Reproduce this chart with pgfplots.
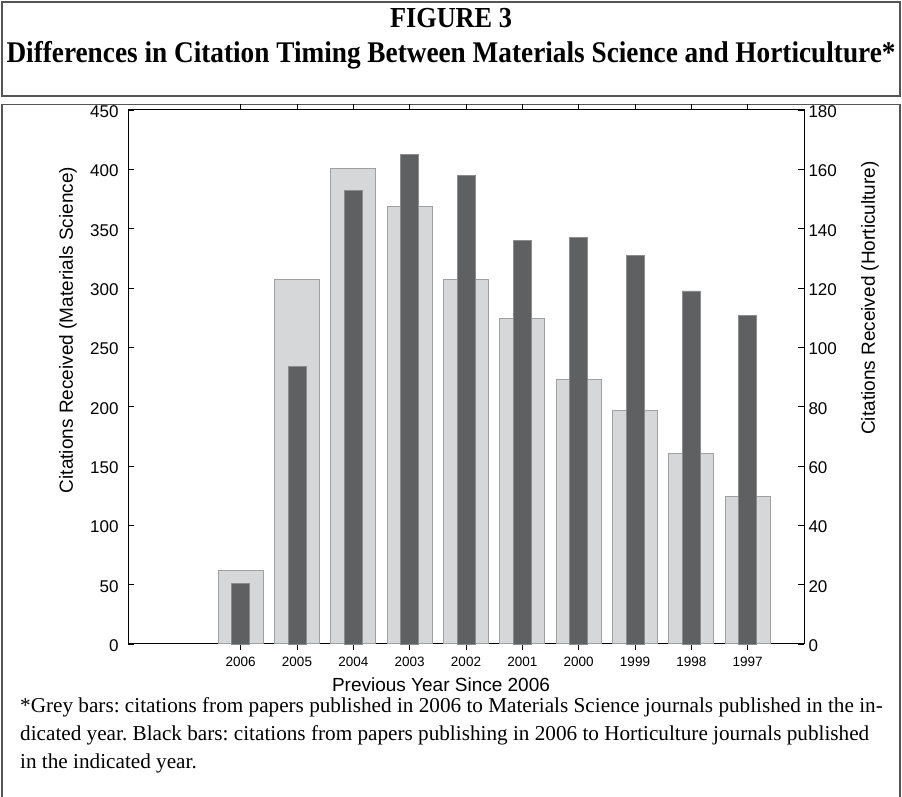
\documentclass[border=0pt]{standalone}
\usepackage{pgfplots}
\pgfplotsset{compat=1.18}
\usepackage{fontspec}
\setmainfont{Liberation Serif}
\setsansfont{Liberation Sans}
\usepackage{graphicx}
\definecolor{lgray}{HTML}{D6D7D9}
\definecolor{lgrayb}{HTML}{9FA0A2}
\definecolor{dgray}{HTML}{5F6062}
\definecolor{dgrayb}{HTML}{8C8C8E}
\definecolor{framec}{HTML}{555555}
\frenchspacing
\begin{document}
\begin{tikzpicture}[x=1pt,y=1pt]
\useasboundingbox (0,0) rectangle (902,797);
\draw[framec, line width=1.6pt] (2,701) rectangle (900,795);
\draw[framec, line width=1.6pt] (2,-5) -- (2,692.5) -- (900,692.5) -- (900,-5);
\node[anchor=base, inner sep=0, font=\bfseries\fontsize{29}{31}\selectfont] at (451,769) {\resizebox{122pt}{\height}{FIGURE 3}};
\node[anchor=base, inner sep=0, font=\bfseries\fontsize{30}{32}\selectfont] at (451,734) {\resizebox{889pt}{\height}{Differences in Citation Timing Between Materials Science and Horticulture*}};

\begin{axis}[at={(128pt,153pt)}, anchor=south west, scale only axis,
  width=676pt, height=534pt,
  xmin=-2, xmax=10, ymin=0, ymax=450,
  ytick={0,50,...,450},
  xtick={0,...,9},
  xticklabels={2006,2005,2004,2003,2002,2001,2000,1999,1998,1997},
  tick align=inside, xtick pos=both, xticklabel pos=bottom,
  ytick pos=left, yticklabel pos=left,
  major tick length=6pt,
  axis line style={line width=1pt},
  every tick/.style={black, line width=0.8pt},
  /pgf/number format/assume math mode=true,
  yticklabel style={font=\sffamily\fontsize{17}{17}\selectfont, xshift=-6pt, yshift=-1.5pt},
  xticklabel style={font=\sffamily\fontsize{13.5}{14}\selectfont, yshift=-4pt},
  ybar, bar width=45pt, bar shift=0pt, clip=false]
\addplot[fill=lgray, draw=lgrayb, line width=1pt] coordinates {
 (0,62) (1,307) (2,401) (3,369) (4,307) (5,274) (6,222.5) (7,197) (8,160.5) (9,124)};
\end{axis}

\begin{axis}[at={(128pt,153pt)}, anchor=south west, scale only axis,
  width=676pt, height=534pt,
  xmin=-2, xmax=10, ymin=0, ymax=180,
  ytick={0,20,...,180},
  axis x line=none, axis y line*=right,
  tick align=inside,
  major tick length=6pt,
  axis line style={line width=1pt},
  every tick/.style={black, line width=0.8pt},
  /pgf/number format/assume math mode=true,
  yticklabel style={font=\sffamily\fontsize{17}{17}\selectfont, xshift=1pt, yshift=-1.5pt},
  ybar, bar width=18pt, bar shift=0pt, clip=false]
\addplot[fill=dgray, draw=dgrayb, line width=0.8pt] coordinates {
 (0,20.5) (1,93.5) (2,153) (3,165) (4,158) (5,136) (6,137) (7,131) (8,119) (9,110.7)};
\end{axis}

\node[rotate=90, font=\sffamily\fontsize{19}{19}\selectfont] at (68,467) {Citations Received (Materials Science)};
\node[rotate=90, font=\sffamily\fontsize{19}{19}\selectfont] at (870,499) {Citations Received (Horticulture)};
\node[font=\sffamily\fontsize{19}{19}\selectfont] at (441,112) {Previous Year Since 2006};

\node[anchor=base west, inner sep=0, font=\fontsize{21.2}{24}\selectfont] at (20,84) {*Grey bars: citations from papers published in 2006 to Materials Science journals published in the in-};
\node[anchor=base west, inner sep=0, font=\fontsize{21.2}{24}\selectfont] at (20,56) {dicated year. Black bars: citations from papers publishing in 2006 to Horticulture journals published};
\node[anchor=base west, inner sep=0, font=\fontsize{21.2}{24}\selectfont] at (20,28) {in the indicated year.};
\end{tikzpicture}
\end{document}
